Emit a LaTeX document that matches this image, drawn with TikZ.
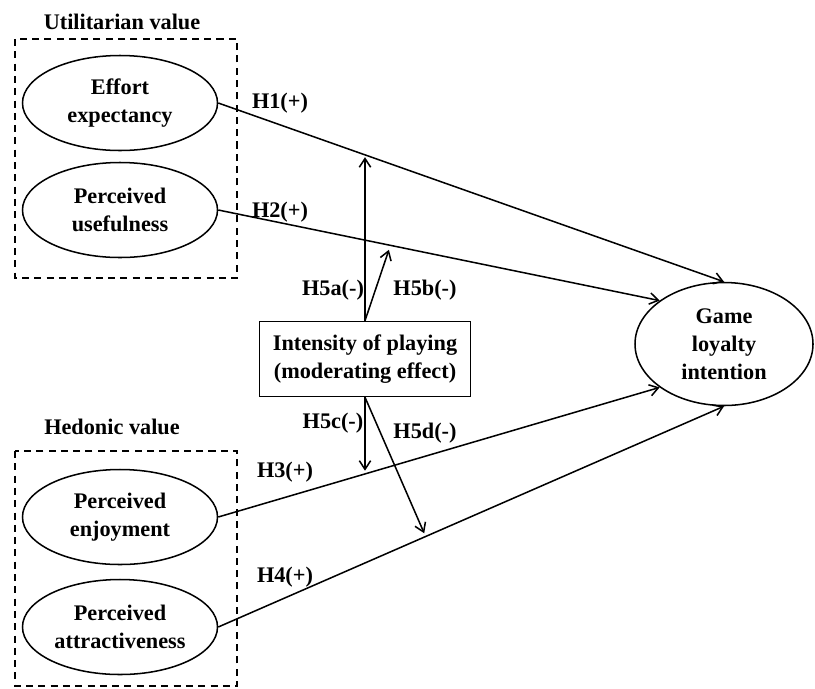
\documentclass[tikz,border=0pt]{standalone}
\usepackage{fontspec}
\setmainfont{Liberation Serif}
\usetikzlibrary{arrows.meta,positioning,shapes.geometric}

\begin{document}
\begin{tikzpicture}[
  x=0.03cm, y=-0.03cm,
  font=\bfseries\fontsize{19}{24}\selectfont,
  construct/.style={draw, ellipse, line width=1.3pt, align=center, inner sep=0pt,
                    minimum width=5.85cm, minimum height=2.85cm},
  modbox/.style={draw, line width=1.3pt, align=center, inner sep=0pt,
                 minimum width=6.33cm, minimum height=2.25cm},
  groupbox/.style={draw, line width=1.3pt, dash pattern=on 6pt off 4.5pt},
  path/.style={draw, line width=1.3pt, -{Straight Barb[length=2.6mm,width=3.4mm]}},
  hyp/.style={inner sep=1pt}
]
\useasboundingbox (0,0) rectangle (815,688);
% utilitarian value
\node (utitle) at (122,22) {Utilitarian value};
\draw[groupbox] (15,39) rectangle (237,278);
\node[construct] (ee) at (120,103) {Effort\\expectancy};
\node[construct] (pu) at (120,210) {Perceived\\usefulness};
% hedonic value
\node (htitle) at (112,427) {Hedonic value};
\draw[groupbox] (15,451) rectangle (237,686);
\node[construct] (pe) at (120,517) {Perceived\\enjoyment};
\node[construct] (pa) at (120,627) {Perceived\\attractiveness};
% outcome and moderator
\node[construct, minimum width=5.34cm, minimum height=3.69cm] (gli) at (724,344) {Game\\loyalty\\intention};
\node[modbox] (mod) at (365,359) {Intensity of playing\\(moderating effect)};
% direct paths
\draw[path] (ee.east) -- coordinate[pos=0.29] (h1m) (gli.north);
\draw[path] (pu.east) -- coordinate[pos=0.39] (h2m) (gli.146);
\draw[path] (pe.east) -- coordinate[pos=0.33] (h3m) (gli.214);
\draw[path] (pa.east) -- coordinate[pos=0.41] (h4m) (gli.south);
\node[hyp] (h1) at (280,103) {H1(+)};
\node[hyp] (h2) at (280,212) {H2(+)};
\node[hyp] (h3) at (285,472) {H3(+)};
\node[hyp] (h4) at (285,577) {H4(+)};
% moderating paths
\draw[path, shorten >=2pt] (mod.north) -- (mod.north |- h1m);
\draw[path, shorten >=4pt] (mod.north) -- (h2m);
\draw[path, shorten >=3pt] (mod.south) -- (mod.south |- h3m);
\draw[path, shorten >=3pt] (mod.south) -- (h4m);
\node[hyp] (h5a) at (333,290) {H5a(-)};
\node[hyp] (h5b) at (425,290) {H5b(-)};
\node[hyp] (h5c) at (333,423) {H5c(-)};
\node[hyp] (h5d) at (425,433) {H5d(-)};
\end{tikzpicture}
\end{document}
